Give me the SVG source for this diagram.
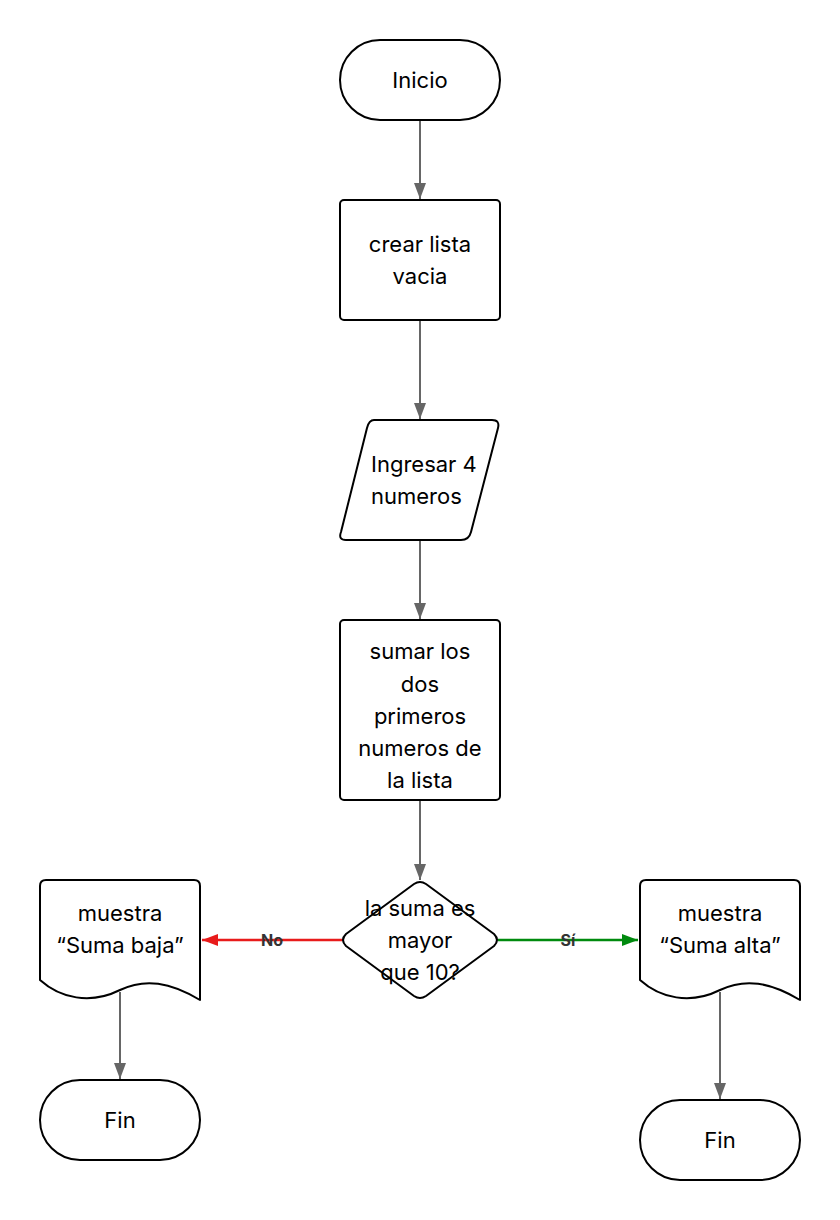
<svg xmlns="http://www.w3.org/2000/svg" width="840" height="1220" viewBox="0 0 840 1220">
<style>
.n{fill:#fff;stroke:#000;stroke-width:2;stroke-linejoin:round}
.t{font-family:Inter,"Liberation Sans",sans-serif;font-size:22px;fill:#000;text-anchor:middle}
.c{fill:none;stroke:#666;stroke-width:2}
.lb{font-family:Inter,"Liberation Sans",sans-serif;font-size:16px;font-weight:bold;fill:#333;text-anchor:middle;dominant-baseline:central}
</style>
<defs>
<marker id="ag" markerWidth="16" markerHeight="12" refX="16" refY="6" orient="auto" markerUnits="userSpaceOnUse" viewBox="0 0 16 12"><path d="M0,0 L16,6 L0,12 Z" fill="#666"/></marker>
<marker id="ar" markerWidth="16" markerHeight="12" refX="16" refY="6" orient="auto" markerUnits="userSpaceOnUse" viewBox="0 0 16 12"><path d="M0,0 L16,6 L0,12 Z" fill="#e81b1b"/></marker>
<marker id="agr" markerWidth="16" markerHeight="12" refX="16" refY="6" orient="auto" markerUnits="userSpaceOnUse" viewBox="0 0 16 12"><path d="M0,0 L16,6 L0,12 Z" fill="#008a0e"/></marker>
</defs>
<g id="connectors">
<line class="c" x1="420" y1="120" x2="420" y2="199" marker-end="url(#ag)"/>
<line class="c" x1="420" y1="320" x2="420" y2="419" marker-end="url(#ag)"/>
<line class="c" x1="420" y1="540" x2="420" y2="619" marker-end="url(#ag)"/>
<line class="c" x1="420" y1="800" x2="420" y2="880" marker-end="url(#ag)"/>
<line x1="342" y1="940" x2="202" y2="940" stroke="#e81b1b" stroke-width="2.5" marker-end="url(#ar)"/>
<text class="lb" x="272" y="940">No</text>
<line x1="498" y1="940" x2="638" y2="940" stroke="#008a0e" stroke-width="2.5" marker-end="url(#agr)"/>
<text class="lb" x="568" y="940">Sí</text>
<line class="c" x1="120" y1="992" x2="120" y2="1079" marker-end="url(#ag)"/>
<line class="c" x1="720" y1="992" x2="720" y2="1099" marker-end="url(#ag)"/>
</g>
<g id="inicio">
<rect class="n" x="340" y="40" width="160" height="80" rx="40"/>
<text class="t" x="420" y="88">Inicio</text>
</g>
<g id="crear">
<rect class="n" x="340" y="200" width="160" height="120" rx="4"/>
<text class="t" x="420" y="252">crear lista</text>
<text class="t" x="420" y="284">vacia</text>
</g>
<g id="ingresar">
<path class="n" d="M374,420 H492 Q500,420 498,428 L471,532 Q469,540 461,540 H346 Q338,540 341,532 L367,428 Q369,420 374,420 Z"/>
<text class="t" x="371" y="472" style="text-anchor:start">Ingresar 4</text>
<text class="t" x="371" y="504" style="text-anchor:start">numeros</text>
</g>
<g id="sumar">
<rect class="n" x="340" y="620" width="160" height="180" rx="4"/>
<text class="t" x="420" y="659">sumar los</text>
<text class="t" x="420" y="692">dos</text>
<text class="t" x="420" y="724">primeros</text>
<text class="t" x="420" y="756">numeros de</text>
<text class="t" x="420" y="788">la lista</text>
</g>
<g id="decision">
<path class="n" d="M414,884 Q420,880 426,884 L494,934 Q500,940 494,946 L426,996 Q420,1000 414,996 L346,946 Q340,940 346,934 Z"/>
<text class="t" x="420" y="916">la suma es</text>
<text class="t" x="420" y="948">mayor</text>
<text class="t" x="420" y="980">que 10?</text>
</g>
<g id="baja">
<path class="n" d="M40,980 V886 Q40,880 46,880 H194 Q200,880 200,886 V1000 C170,982 145,978 120,990 C90,1005 60,998 40,980 Z"/>
<text class="t" x="120" y="921">muestra</text>
<text class="t" x="120" y="953">“Suma baja”</text>
</g>
<g id="alta">
<path class="n" d="M640,980 V886 Q640,880 646,880 H794 Q800,880 800,886 V1000 C770,982 745,978 720,990 C690,1005 660,998 640,980 Z"/>
<text class="t" x="720" y="921">muestra</text>
<text class="t" x="720" y="953">“Suma alta”</text>
</g>
<g id="fin1">
<rect class="n" x="40" y="1080" width="160" height="80" rx="40"/>
<text class="t" x="120" y="1128">Fin</text>
</g>
<g id="fin2">
<rect class="n" x="640" y="1100" width="160" height="80" rx="40"/>
<text class="t" x="720" y="1148">Fin</text>
</g>
</svg>
